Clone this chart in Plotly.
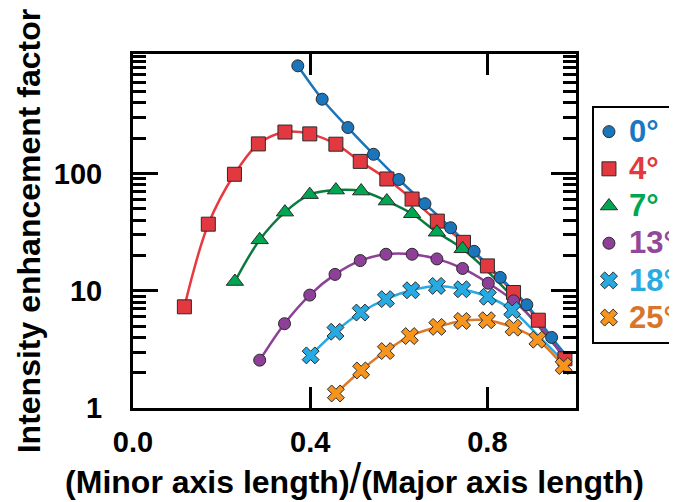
import plotly.graph_objects as go

# ---- data ----
labels = ["0°", "4°", "7°", "13°", "18°", "25°"]

x0 = [0.372, 0.427, 0.485, 0.543, 0.600, 0.659, 0.717, 0.770, 0.829, 0.889, 0.945]
y0 = [830, 431, 247, 146, 89, 55.3, 34.5, 21.7, 13.0, 7.6, 4.0]
tail_x0 = [0.975]
tail_y0 = [2.9]

x4 = [0.116, 0.170, 0.229, 0.283, 0.343, 0.399, 0.458, 0.513, 0.573, 0.630, 0.687, 0.746, 0.800, 0.859, 0.915, 0.975]
y4 = [7.3, 37.0, 98.6, 179, 226, 218, 178, 127, 89.9, 60.6, 39.3, 25.9, 16.3, 9.67, 5.61, 2.63]
tail_x4 = []
tail_y4 = []

x7 = [0.230, 0.286, 0.343, 0.399, 0.458, 0.515, 0.573, 0.630, 0.686, 0.744]
y7 = [12.0, 27.2, 46.9, 66.1, 72.3, 70.9, 58.3, 45.4, 31.6, 22.8]
tail_x7 = [0.844, 0.975]
tail_y7 = [10.0, 2.7]

x13 = [0.286, 0.342, 0.399, 0.456, 0.513, 0.571, 0.630, 0.686, 0.744, 0.802, 0.859]
y13 = [2.56, 5.24, 9.19, 13.8, 18.1, 20.5, 20.5, 18.7, 15.5, 11.6, 8.2]
tail_x13 = [0.934, 0.975]
tail_y13 = [4.25, 2.6]

x18 = [0.401, 0.457, 0.514, 0.571, 0.628, 0.686, 0.743, 0.801, 0.856]
y18 = [2.81, 4.47, 6.52, 8.49, 10.1, 11.0, 10.3, 8.89, 6.83]
tail_x18 = [0.919, 0.972]
tail_y18 = [3.98, 2.5]

x25 = [0.458, 0.515, 0.571, 0.625, 0.687, 0.743, 0.799, 0.859, 0.913, 0.972]
y25 = [1.33, 2.09, 3.06, 4.11, 4.92, 5.53, 5.61, 4.85, 3.83, 2.28]
tail_x25 = []
tail_y25 = []

x_tick_vals = [0.0, 0.4, 0.8]
x_tick_text = ["0.0", "0.4", "0.8"]
y_tick_vals = [1, 10, 100]
y_tick_text = ["1", "10", "100"]

# ---- styling ----
FONT = "Liberation Sans, Arial, Helvetica, sans-serif"
series = [
    # label, x, y, tail_x, tail_y, symbol, size, marker color, line color, text color, legend rank
    ("4°", x4, y4, tail_x4, tail_y4, "square", 14, "#e2383f", "#e63a40", "#e2383f", 2),
    ("7°", x7, y7, tail_x7, tail_y7, "triangle-up", 15, "#00a651", "#0b7a3e", "#00a651", 3),
    ("0°", x0, y0, tail_x0, tail_y0, "circle", 12, "#1b75bb", "#1b75bb", "#1a78c2", 1),
    ("13°", x13, y13, tail_x13, tail_y13, "circle", 12, "#8e3f98", "#8e3f98", "#92479a", 4),
    ("18°", x18, y18, tail_x18, tail_y18, "x", 15, "#27a9e1", "#27a9e1", "#29abe2", 5),
    ("25°", x25, y25, tail_x25, tail_y25, "x", 15, "#f7941d", "#dd7a2a", "#d87528", 6),
]

fig = go.Figure()

# smooth curves first
for lab, xs, ys, tx, ty, sym, sz, mc, lc, tc, rank in series:
    fig.add_trace(go.Scatter(
        x=xs + tx, y=ys + ty, mode="lines",
        line=dict(color=lc, width=2.5, shape="spline", smoothing=1.0),
        showlegend=False, hoverinfo="skip",
    ))

# markers on top
for lab, xs, ys, tx, ty, sym, sz, mc, lc, tc, rank in series:
    fig.add_trace(go.Scatter(
        x=xs, y=ys, mode="markers",
        name=f"<span style='color:{tc};font-size:31px'>{lab}</span>",
        legendrank=rank,
        marker=dict(symbol=sym, size=sz, color=mc,
                    line=dict(color="#2b2b2b", width=1)),
    ))

axis_common = dict(
    showline=True, linecolor="black", linewidth=3, mirror="allticks",
    ticks="inside", tickcolor="black", tickwidth=3,
    showgrid=False, zeroline=False,
    tickfont=dict(family=FONT, size=29, color="black", weight="bold"),
)

fig.update_xaxes(
    range=[0, 1.0], tickvals=x_tick_vals, ticktext=x_tick_text, ticklen=21,
    ticklabelstandoff=6,
    title=dict(text="(Minor axis length)<span style='font-weight:normal;font-size:42px'>/</span>(Major axis length)",
               font=dict(family=FONT, size=32, color="black", weight="bold"), standoff=10),
    automargin=False,
    **axis_common,
)
fig.update_yaxes(
    type="log", range=[0, 3.02], tickvals=y_tick_vals, ticktext=y_tick_text, ticklen=25,
    minor=dict(ticks="inside", ticklen=13, tickwidth=3, tickcolor="black", dtick="D1", showgrid=False),
    title=dict(text="Intensity enhancement factor",
               font=dict(family=FONT, size=32, color="black", weight="bold"), standoff=4),
    automargin=False, ticklabelstandoff=22,
    **axis_common,
)

fig.update_layout(
    width=669, height=494,
    margin=dict(l=125, r=101, t=46, b=94, autoexpand=False),
    paper_bgcolor="white", plot_bgcolor="white",
    legend=dict(x=1.036, y=0.853, xanchor="left", yanchor="top",
                bordercolor="black", borderwidth=2, bgcolor="white",
                font=dict(family=FONT, size=26.3, weight="bold"),
                indentation=-5,
                itemclick=False, tracegroupgap=0),
    showlegend=True,
)

fig.write_html("out.html")
